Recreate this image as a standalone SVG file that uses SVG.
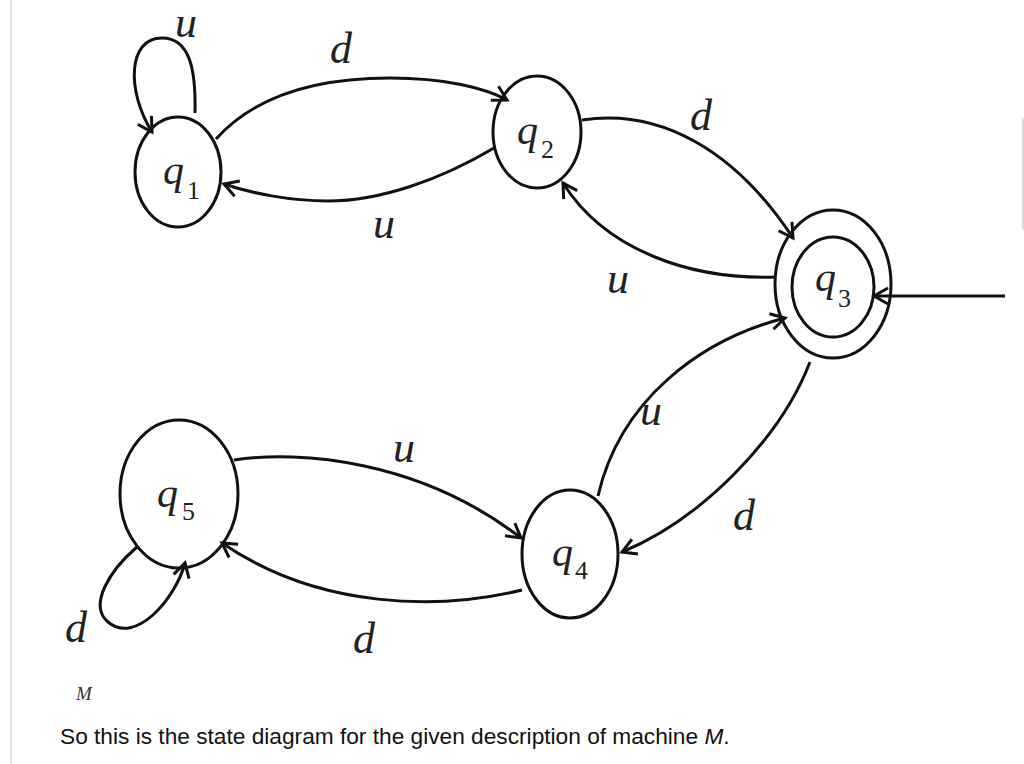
<svg xmlns="http://www.w3.org/2000/svg" width="1024" height="764" viewBox="0 0 1024 764">
<style>
.st{fill:none;stroke:#111;stroke-width:3}
.e{fill:none;stroke:#111;stroke-width:3}
.lb{font-family:"Liberation Serif","Times New Roman",serif;font-style:italic;font-size:44px;fill:#222}
.q{font-family:"Liberation Serif","Times New Roman",serif;font-style:italic;font-size:42px;fill:#222}
.sub{font-family:"Liberation Serif","Times New Roman",serif;font-style:normal;font-size:26px;fill:#222}
.cap{font-family:"Liberation Sans",Arial,sans-serif;font-size:22.7px;fill:#111}
</style>
<defs>
<marker id="arr" markerUnits="userSpaceOnUse" markerWidth="24" markerHeight="24" viewBox="-18 -12 24 24" refX="0" refY="0" orient="auto">
<path d="M-14,-8 L0,0 L-14,8" fill="none" stroke="#111" stroke-width="3" stroke-linejoin="miter"/>
</marker>
</defs>
<rect width="1024" height="764" fill="#fff"/>
<line x1="11" y1="0" x2="11" y2="764" stroke="#d8d8d8" stroke-width="1.5"/>
<line x1="1023" y1="118" x2="1023" y2="230" stroke="#cfcfcf" stroke-width="1.5"/>

<g id="edges">
<path class="e" d="M195,113 C196,70 190,38 162,38 C128,38 126,90 152,132" marker-end="url(#arr)"/>
<path class="e" d="M216,139 C260,90 330,78 390,78 C445,78 485,88 507,100" marker-end="url(#arr)"/>
<path class="e" d="M494,148 C440,180 380,201 328,201 C290,201 250,193 224,184" marker-end="url(#arr)"/>
<path class="e" d="M582,120 C660,108 735,150 793,238" marker-end="url(#arr)"/>
<path class="e" d="M776,277 C690,280 605,250 563,183" marker-end="url(#arr)"/>
<path class="e" d="M598,496 C620,400 700,340 785,318" marker-end="url(#arr)"/>
<path class="e" d="M810,362 C780,440 700,520 622,552" marker-end="url(#arr)"/>
<path class="e" d="M234,460 C300,450 420,460 521,538" marker-end="url(#arr)"/>
<path class="e" d="M522,590 C440,610 320,610 222,543" marker-end="url(#arr)"/>
<path class="e" d="M137,547 C110,570 88,605 108,622 C135,645 175,600 185,563" marker-end="url(#arr)"/>
<path class="e" d="M1005,296 L874,296" marker-end="url(#arr)"/>
<text class="lb" x="175" y="37">u</text>
<text class="lb" x="330" y="63">d</text>
<text class="lb" x="373" y="238">u</text>
<text class="lb" x="690" y="130">d</text>
<text class="lb" x="607" y="293">u</text>
<text class="lb" x="640" y="425">u</text>
<text class="lb" x="733" y="530">d</text>
<text class="lb" x="393" y="462">u</text>
<text class="lb" x="353" y="653">d</text>
<text class="lb" x="65" y="642">d</text>
</g>

<g id="q1">
<ellipse class="st" cx="178" cy="172" rx="43" ry="55"/>
<text class="q" x="163" y="184">q</text><text class="sub" x="187" y="199">1</text>
</g>
<g id="q2">
<ellipse class="st" cx="537" cy="132" rx="44" ry="56"/>
<text class="q" x="517" y="144">q</text><text class="sub" x="541" y="158">2</text>
</g>
<g id="q3">
<ellipse class="st" cx="833" cy="284" rx="58" ry="74"/>
<ellipse class="st" cx="833" cy="287" rx="41" ry="50"/>
<text class="q" x="815" y="291">q</text><text class="sub" x="838" y="307">3</text>
</g>
<g id="q4">
<ellipse class="st" cx="570" cy="554" rx="48" ry="64"/>
<text class="q" x="552" y="566">q</text><text class="sub" x="575" y="579">4</text>
</g>
<g id="q5">
<ellipse class="st" cx="179" cy="494" rx="59" ry="74"/>
<text class="q" x="157" y="507">q</text><text class="sub" x="182" y="520">5</text>
</g>

<text x="76" y="700" style="font-family:'Liberation Serif','Times New Roman',serif;font-style:italic;font-size:19px;fill:#333">M</text>
<text class="cap" x="60" y="744">So this is the state diagram for the given description of machine <tspan font-style="italic">M</tspan>.</text>
</svg>
